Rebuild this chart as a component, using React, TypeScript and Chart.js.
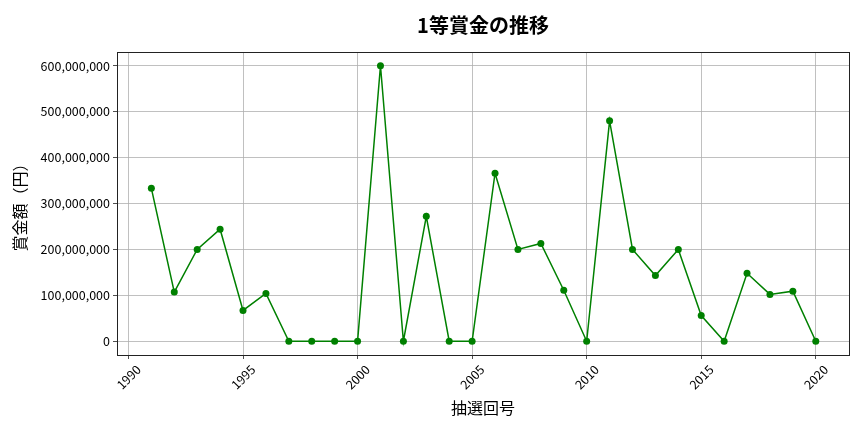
import { useEffect, useRef } from "react"
import { Chart, registerables } from "chart.js"

Chart.register(...registerables)

// 抽選年と1等賞金（円）
const years = [
  1991, 1992, 1993, 1994, 1995, 1996, 1997, 1998, 1999, 2000,
  2001, 2002, 2003, 2004, 2005, 2006, 2007, 2008, 2009, 2010,
  2011, 2012, 2013, 2014, 2015, 2016, 2017, 2018, 2019, 2020,
]
const prizes = [
  333000000, 107000000, 200000000, 244000000, 67000000, 104000000, 0, 0, 0, 0,
  600000000, 0, 272000000, 0, 0, 366000000, 200000000, 213000000, 111000000, 0,
  480000000, 200000000, 143000000, 200000000, 56000000, 0, 148000000, 102000000, 109000000, 0,
]
const xTicks = [1990, 1995, 2000, 2005, 2010, 2015, 2020]
const yTicks = [0, 100000000, 200000000, 300000000, 400000000, 500000000, 600000000]

const FONT = "'Noto Sans CJK JP', 'Noto Sans', sans-serif"

// タイトルをプロット領域の中央に描く
const titlePlugin = {
  id: "plotTitle",
  afterDraw(chart: Chart) {
    const { ctx, chartArea } = chart
    ctx.save()
    ctx.font = `bold 20px ${FONT}`
    ctx.fillStyle = "#000"
    ctx.textAlign = "center"
    ctx.textBaseline = "middle"
    ctx.fillText("1等賞金の推移", (chartArea.left + chartArea.right) / 2, 25)
    ctx.restore()
  },
}

// 枠線
const framePlugin = {
  id: "frame",
  afterDraw(chart: Chart) {
    const { ctx, chartArea } = chart
    ctx.save()
    ctx.strokeStyle = "#222"
    ctx.lineWidth = 1
    ctx.strokeRect(
      Math.round(chartArea.left) + 0.5,
      Math.round(chartArea.top) + 0.5,
      Math.round(chartArea.right - chartArea.left),
      Math.round(chartArea.bottom - chartArea.top)
    )
    ctx.restore()
  },
}

export default function App() {
  const canvasRef = useRef<HTMLCanvasElement>(null)
  const chartRef = useRef<Chart | null>(null)

  useEffect(() => {
    if (!canvasRef.current) return
    if (chartRef.current) chartRef.current.destroy()

    chartRef.current = new Chart(canvasRef.current, {
      type: "line",
      data: {
        datasets: [
          {
            data: years.map((y, i) => ({ x: y, y: prizes[i] })),
            borderColor: "#008000",
            backgroundColor: "#008000",
            borderWidth: 1.5,
            pointRadius: 3.5,
            pointBorderWidth: 0,
            tension: 0,
          },
        ],
      },
      options: {
        responsive: false,
        animation: false,
        layout: { padding: { top: 52, right: 15, bottom: 0, left: 0 } },
        plugins: {
          legend: { display: false },
          tooltip: { enabled: false },
          title: { display: false },
        },
        scales: {
          x: {
            type: "linear",
            min: 1989.5,
            max: 2021.45,
            afterBuildTicks: (scale: any) => {
              scale.ticks = xTicks.map((v) => ({ value: v }))
            },
            afterFit: (scale: any) => {
              scale.height = 77
            },
            grid: { color: "#b0b0b0", lineWidth: 0.8, tickColor: "#222", tickLength: 4 },
            border: { display: false },
            ticks: {
              autoSkip: false,
              minRotation: 45,
              maxRotation: 45,
              labelOffset: 10,
              padding: 3,
              color: "#000",
              font: { family: FONT, size: 12.5 },
              callback: (v: any) => String(v),
            },
            title: {
              display: true,
              text: "抽選回号",
              color: "#000",
              font: { family: FONT, size: 16 },
              padding: { top: 0, bottom: 14 },
            },
          },
          y: {
            min: -30000000,
            max: 630000000,
            afterBuildTicks: (scale: any) => {
              scale.ticks = yTicks.map((v) => ({ value: v }))
            },
            afterFit: (scale: any) => {
              scale.width = 117
            },
            grid: { color: "#b0b0b0", lineWidth: 0.8, tickColor: "#222", tickLength: 4 },
            border: { display: false },
            ticks: {
              padding: 3,
              color: "#000",
              font: { family: FONT, size: 12.5 },
              callback: (v: any) => Number(v).toLocaleString("en-US"),
            },
            title: {
              display: true,
              text: "賞金額（円）",
              color: "#000",
              font: { family: FONT, size: 16 },
              padding: { top: 10, bottom: 0 },
            },
          },
        },
      },
      plugins: [titlePlugin, framePlugin],
    })

    return () => {
      if (chartRef.current) {
        chartRef.current.destroy()
        chartRef.current = null
      }
    }
  }, [])

  return (
    <div style={{ position: "fixed", left: 0, top: 0, width: 864, height: 432, background: "#fff" }}>
      <canvas ref={canvasRef} width={864} height={432} style={{ width: 864, height: 432 }} />
    </div>
  )
}
